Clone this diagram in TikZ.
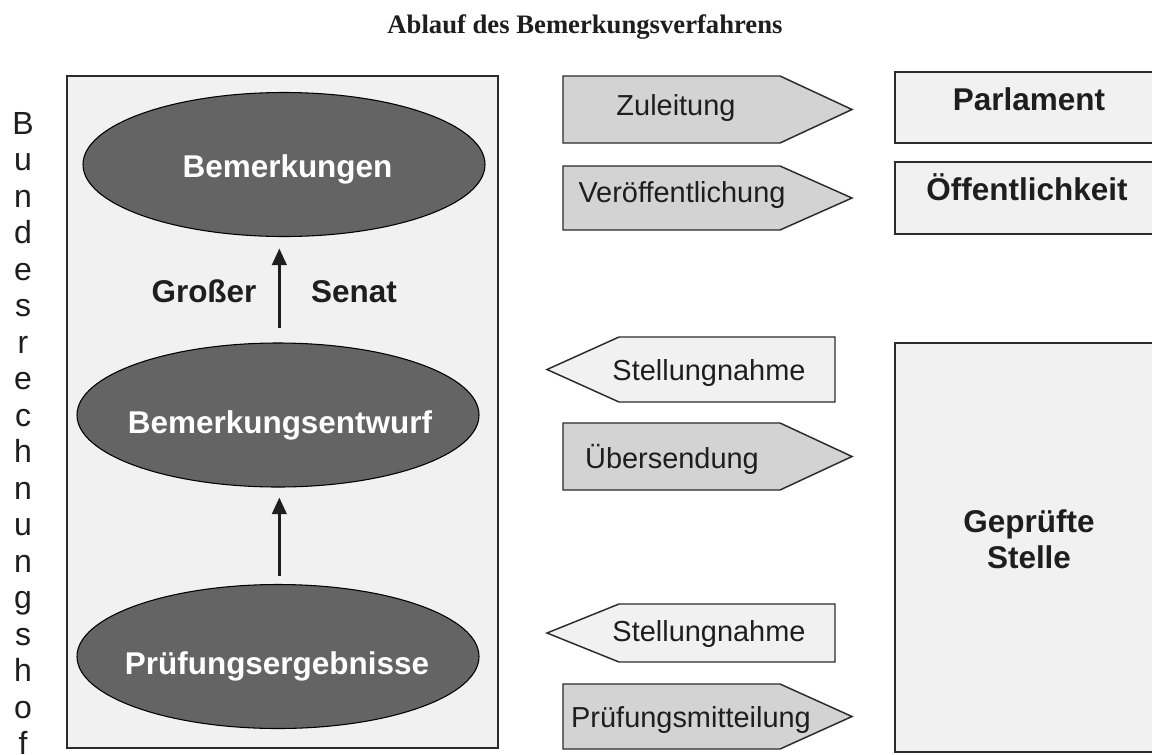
\documentclass[tikz,border=0pt]{standalone}
\usepackage{fontspec}
\setmainfont{Liberation Serif}
\setsansfont{Liberation Sans}
\usetikzlibrary{shapes.geometric,arrows.meta}
\definecolor{boxbg}{HTML}{F1F1F1}
\definecolor{ellfill}{HTML}{646464}
\definecolor{arrfill}{HTML}{D3D3D3}
\definecolor{linec}{HTML}{2B2B2B}
\definecolor{txt}{HTML}{1E1E1E}
\begin{document}
\begin{tikzpicture}[x=0.75pt,y=-0.75pt,
 boxline/.style={draw=linec, line width=1.5pt, fill=boxbg},
 ell/.style={ellipse, draw=black, line width=0.8pt, fill=ellfill, minimum width=301.5pt, minimum height=108pt, inner sep=0pt},
 elltext/.style={anchor=base, font=\sffamily\bfseries\fontsize{23.6}{28}\selectfont, text=white, inner sep=0pt},
 boldlabel/.style={anchor=base, font=\sffamily\bfseries\fontsize{23.6}{28}\selectfont, text=txt, inner sep=0pt},
 arrlabel/.style={anchor=base, font=\sffamily\fontsize{21.7}{26}\selectfont, text=txt, inner sep=0pt},
 vletter/.style={anchor=base, font=\sffamily\fontsize{24}{28}\selectfont, text=txt, inner sep=0pt},
 rarrow/.style={draw=linec, line width=1.1pt, fill=arrfill, line join=miter},
 larrow/.style={draw=linec, line width=1.1pt, fill=boxbg, line join=miter},
 uparrow/.style={draw=txt, line width=1.8pt, -{Triangle[length=12.5pt,width=11pt]}},
]
\clip (0,0) rectangle (1152,754);
\fill[white] (0,0) rectangle (1152,754);

% title
\node[anchor=base, font=\rmfamily\bfseries\fontsize{20}{24}\selectfont, text=txt, inner sep=0pt] (title) at (585,33) {Ablauf des Bemerkungsverfahrens};

% vertical text
\foreach \c [count=\i from 0] in {B,u,n,d,e,s,r,e,c,h,n,u,n,g,s,h,o,f}
  \node[vletter] (v\i) at (23,134+36.5*\i) {\c};

% left box
\draw[boxline] (67,76) rectangle (498,748);

% ellipses
\node[ell] (e1) at (284,164.5) {};
\node[ell] (e2) at (278,415) {};
\node[ell] (e3) at (278,656.5) {};
\node[elltext] (t1) at (287.5,177) {Bemerkungen};
\node[elltext] (t2) at (280,433) {Bemerkungsentwurf};
\node[elltext] (t3) at (277,674) {Prüfungsergebnisse};

% vertical arrows
\draw[uparrow, shorten <=10.5pt, shorten >=8.6pt] ([xshift=1pt]e2.north) -- ([xshift=1pt]e2.north |- e1.south);
\draw[uparrow, shorten <=6pt, shorten >=7.5pt] ([xshift=1pt]e3.north) -- ([xshift=1pt]e3.north |- e2.south);
\node[boldlabel] (gr) at (204,302) {Großer};
\node[boldlabel] (se) at (354,302) {Senat};

% right pointing arrows
\draw[rarrow] (563,76) -- (780,76) -- (852,109.5) -- (780,143) -- (563,143) -- cycle;
\draw[rarrow] (563,166) -- (780,166) -- (852,198) -- (780,230) -- (563,230) -- cycle;
\draw[rarrow] (563,423) -- (780,423) -- (852,456.5) -- (780,490) -- (563,490) -- cycle;
\draw[rarrow] (563,684) -- (780,684) -- (852,716.5) -- (780,749) -- (563,749) -- cycle;
% left pointing arrows
\draw[larrow] (835,337) -- (619,337) -- (547,369.5) -- (619,402) -- (835,402) -- cycle;
\draw[larrow] (835,604) -- (619,604) -- (547,633) -- (619,662) -- (835,662) -- cycle;

\node[arrlabel] (a1) at (676,115) {Zuleitung};
\node[arrlabel] (a2) at (682,202) {Veröffentlichung};
\node[arrlabel] (a3) at (709,380) {Stellungnahme};
\node[arrlabel] (a4) at (672,468) {Übersendung};
\node[arrlabel] (a5) at (709,641) {Stellungnahme};
\node[arrlabel] (a6) at (691,727) {Prüfungsmitteilung};

% right boxes
\draw[boxline] (895,72) rectangle (1170,143);
\draw[boxline] (895,162) rectangle (1170,234);
\draw[boxline] (895,343) rectangle (1170,752);
\node[boldlabel] (p1) at (1029,110) {Parlament};
\node[boldlabel] (p2) at (1027,200) {Öffentlichkeit};
\node[boldlabel] (p3) at (1029,532) {Geprüfte};
\node[boldlabel] (p4) at (1029,568) {Stelle};
\end{tikzpicture}
\end{document}
